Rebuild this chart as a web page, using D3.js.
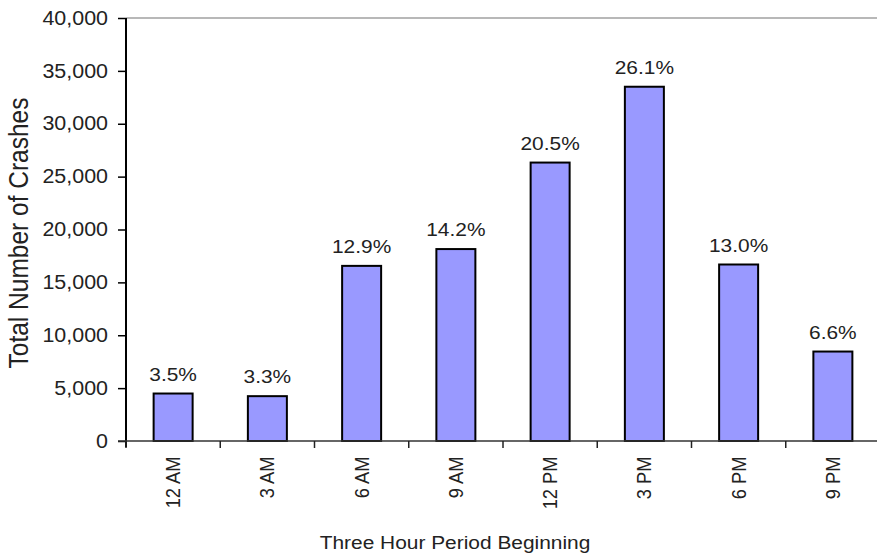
<!DOCTYPE html>
<html><head><meta charset="utf-8">
<script src="https://cdn.jsdelivr.net/npm/d3@7"></script>
<style>body{margin:0;background:#fff}svg{display:block}text{font-family:"Liberation Sans",Arial,sans-serif;fill:#222}</style>
</head><body><svg id="c" width="877" height="560"></svg>
<script>
const categories = ["12 AM","3 AM","6 AM","9 AM","12 PM","3 PM","6 PM","9 PM"];
const crashes = [4490, 4240, 16560, 18150, 26330, 33500, 16690, 8460];
const percentLabels = ["3.5%","3.3%","12.9%","14.2%","20.5%","26.1%","13.0%","6.6%"];
const yTicks = [0,5000,10000,15000,20000,25000,30000,35000,40000];

const SX = 1.1; // horizontal stretch of the reference rendering
const svg = d3.select("#c");
const L=126, R=880, T=18, B=441;
const xb = d3.scaleBand().domain(categories).range([L,R]);
const y = d3.scaleLinear().domain([0,40000]).range([B,T]);

// top border
svg.append("line").attr("x1",L).attr("x2",877).attr("y1",T).attr("y2",T).attr("stroke","#a0a0a0").attr("stroke-width",1.5);

// bars
svg.selectAll("rect.bar").data(crashes).enter().append("rect")
  .attr("x",(d,i)=>xb(categories[i])+xb.bandwidth()/2-19.5)
  .attr("width",39)
  .attr("y",d=>y(d)).attr("height",d=>B-y(d))
  .attr("fill","#9999ff").attr("stroke","#000").attr("stroke-width",2);

// percent labels
svg.selectAll("text.pl").data(crashes).enter().append("text")
  .attr("transform",(d,i)=>`translate(${xb(categories[i])+xb.bandwidth()/2},${y(d)-13}) scale(${SX},1)`)
  .attr("text-anchor","middle").attr("font-size",19)
  .text((d,i)=>percentLabels[i]);

// y axis
const ya = svg.append("g").attr("transform",`translate(${L},0)`)
  .call(d3.axisLeft(y).tickValues(yTicks).tickFormat(d3.format(",")).tickSize(8).tickPadding(10));
ya.select(".domain").attr("stroke","#000").attr("stroke-width",2).attr("d",`M0,${T}V${B+6}`);
ya.selectAll(".tick line").attr("stroke","#000").attr("stroke-width",1.5);
ya.selectAll(".tick text").attr("font-size",19.5).attr("font-family","Liberation Sans, Arial, sans-serif").attr("fill","#222")
  .attr("x",0).attr("transform",`translate(-18,0) scale(${SX},1)`);

// x axis
const xa = svg.append("g").attr("transform",`translate(0,${B})`)
  .call(d3.axisBottom(xb).tickSize(0).tickFormat(""));
xa.select(".domain").attr("stroke","#333").attr("stroke-width",1.5).attr("d",`M${L-8},0H877`);
xa.selectAll(".tick").remove();
// boundary ticks
const bounds = categories.map(c=>xb(c));
svg.selectAll("line.xt").data(bounds).enter().append("line")
  .attr("x1",d=>d).attr("x2",d=>d).attr("y1",B).attr("y2",B+7)
  .attr("stroke","#222").attr("stroke-width",1.5);
// category labels rotated
svg.selectAll("text.cl").data(categories).enter().append("text")
  .attr("transform",d=>`translate(${xb(d)+xb.bandwidth()/2+7},${B+15.5}) scale(${SX},1) rotate(-90)`)
  .attr("text-anchor","end").attr("font-size",18.3)
  .text(d=>d);

// axis titles
svg.append("text").attr("transform",`translate(28,233) scale(${SX},1) rotate(-90)`)
  .attr("text-anchor","middle").attr("font-size",24.5).text("Total Number of Crashes");
svg.append("text").attr("transform",`translate(455,549) scale(${SX},1)`)
  .attr("text-anchor","middle").attr("font-size",19).text("Three Hour Period Beginning");
</script></body></html>
